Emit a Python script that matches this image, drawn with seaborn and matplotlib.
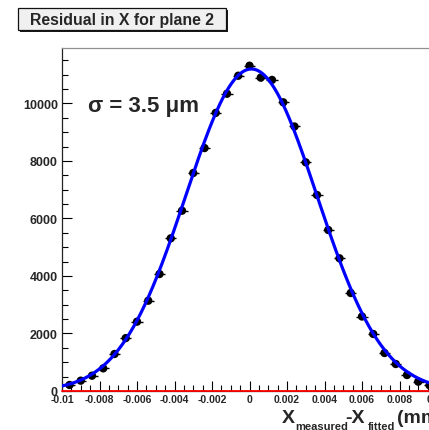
import numpy as np
import pandas as pd
import matplotlib
matplotlib.use("Agg")
import matplotlib.pyplot as plt
import matplotlib.patches as mpatches
from matplotlib.ticker import MultipleLocator, FixedLocator, FixedFormatter
import seaborn as sns

# ---------------- data ----------------
bin_centers = [-0.0096, -0.0090, -0.0084, -0.0078, -0.0072, -0.0066, -0.0060,
               -0.0054, -0.0048, -0.0042, -0.0036, -0.0030, -0.0024, -0.0018,
               -0.0012, -0.0006, 0.0000, 0.0006, 0.0012, 0.0018, 0.0024,
               0.0030, 0.0036, 0.0042, 0.0048, 0.0054, 0.0060, 0.0066,
               0.0072, 0.0078, 0.0084, 0.0090, 0.0096]
counts = [209, 359, 533, 788, 1287, 1840, 2411,
          3141, 4069, 5311, 6271, 7582, 8450, 9675,
          10340, 10966, 11314, 10900, 10820, 10041, 9200,
          7954, 6817, 5600, 4615, 3408, 2591, 1983,
          1322, 939, 556, 324, 200]
half_bin_width = 0.0003

fit_amplitude = 11200.0
fit_mean = 0.0001
fit_sigma = 0.0035

x_tick_values = [-0.01, -0.008, -0.006, -0.004, -0.002, 0, 0.002, 0.004, 0.006, 0.008, 0.01]
x_tick_labels = ["-0.01", "-0.008", "-0.006", "-0.004", "-0.002", "0",
                 "0.002", "0.004", "0.006", "0.008", "0.01"]
y_tick_values = [0, 2000, 4000, 6000, 8000, 10000]
y_tick_labels = ["0", "2000", "4000", "6000", "8000", "10000"]

title_text = "Residual in X for plane 2"
sigma_text = "σ = 3.5 μm"
xlabel_parts = ["X", "measured", "-X", "fitted", "(mm)"]

# ---------------- style ----------------
sns.set_style("white")
plt.rcParams["font.family"] = ["Liberation Sans", "DejaVu Sans"]
plt.rcParams["axes.unicode_minus"] = False

W, H = 429, 431
fig = plt.figure(figsize=(W / 100, H / 100), dpi=100)
fig.patch.set_facecolor("white")

ax = fig.add_axes([62 / W, 1 - 392 / H, (437 - 62) / W, (392 - 49) / H])
ax.set_facecolor("white")

df = pd.DataFrame({"x": bin_centers, "y": counts})
df["err"] = np.sqrt(df["y"])

fit_x = np.linspace(-0.01, 0.01, 500)
fit_y = fit_amplitude * np.exp(-0.5 * ((fit_x - fit_mean) / fit_sigma) ** 2)
fit_df = pd.DataFrame({"x": fit_x, "y": fit_y})

ax.errorbar(df["x"], df["y"], xerr=half_bin_width, yerr=df["err"], fmt="none",
            ecolor="black", elinewidth=1.0, capsize=0, zorder=3)
sns.scatterplot(data=df, x="x", y="y", color="black", s=36, edgecolor="none",
                ax=ax, zorder=4, legend=False)
sns.lineplot(data=fit_df, x="x", y="y", color="#0000ff", linewidth=2.3,
             ax=ax, zorder=5, legend=False)

ax.axhline(0, color="#ff0000", linewidth=1.3, zorder=6, clip_on=False)

ax.set_xlim(-0.01, 0.01)
ax.set_ylim(0, 11930)
ax.set_xlabel("")
ax.set_ylabel("")

ax.xaxis.set_major_locator(FixedLocator(x_tick_values))
ax.xaxis.set_major_formatter(FixedFormatter(x_tick_labels))
ax.xaxis.set_minor_locator(MultipleLocator(0.0005))
ax.yaxis.set_major_locator(FixedLocator(y_tick_values))
ax.yaxis.set_major_formatter(FixedFormatter(y_tick_labels))
ax.yaxis.set_minor_locator(MultipleLocator(500))

ax.tick_params(axis="x", which="major", direction="in", length=7, width=0.8,
               color="black", bottom=True, top=False, pad=2.5, labelsize=7.5)
ax.tick_params(axis="x", which="minor", direction="in", length=4, width=0.8,
               color="black", bottom=True, top=False)
ax.tick_params(axis="y", which="major", direction="in", length=7.5, width=0.8,
               color="black", left=True, right=False, pad=3.0, labelsize=9)
ax.tick_params(axis="y", which="minor", direction="in", length=4, width=0.8,
               color="black", left=True, right=False)
for lab in ax.get_xticklabels() + ax.get_yticklabels():
    lab.set_fontweight("bold")

for side in ["left", "bottom"]:
    ax.spines[side].set_color("#222222")
    ax.spines[side].set_linewidth(0.9)
ax.spines["top"].set_color("#909090")
ax.spines["top"].set_linewidth(0.9)
ax.spines["right"].set_visible(False)

# sigma annotation
fig.text(88 / W, 1 - 112 / H, sigma_text, fontsize=16, fontweight="bold",
         ha="left", va="baseline")

# x-axis title, built from pieces (big letters + small lowered subscripts)
xl_pos = [(282, 423, 14), (295, 430, 8), (345, 423, 14), (368, 430, 8), (397, 423, 14)]
for txt, (px, py, fs) in zip(xlabel_parts, xl_pos):
    fig.text(px / W, 1 - py / H, txt, fontsize=fs, fontweight="bold",
             ha="left", va="baseline")

# title box with shadow
shadow = mpatches.Rectangle((20 / W, 1 - 33 / H), (228 - 20) / W, (33 - 11) / H,
                            transform=fig.transFigure, facecolor="#1a1a1a",
                            edgecolor="none", zorder=10)
box = mpatches.Rectangle((18 / W, 1 - 31 / H), (226 - 18) / W, (31 - 9) / H,
                         transform=fig.transFigure, facecolor="#f0f0f0",
                         edgecolor="#111111", linewidth=0.9, zorder=11)
fig.patches.extend([shadow, box])
fig.text(122 / W, 1 - 20 / H, title_text, fontsize=11.4, fontweight="bold",
         ha="center", va="center", zorder=12)

fig.savefig("out.png", dpi=100)
